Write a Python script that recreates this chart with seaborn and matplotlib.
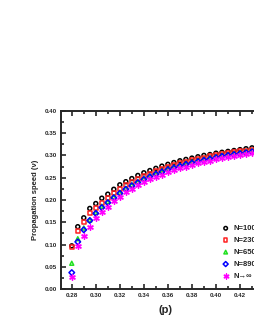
import numpy as np
import pandas as pd
import matplotlib
matplotlib.use("Agg")
import matplotlib.pyplot as plt
from matplotlib.ticker import MultipleLocator
import seaborn as sns

p = [0.280, 0.285, 0.290, 0.295, 0.300, 0.305, 0.310, 0.315, 0.320, 0.325, 0.330,
     0.335, 0.340, 0.345, 0.350, 0.355, 0.360, 0.365, 0.370, 0.375, 0.380, 0.385,
     0.390, 0.395, 0.400, 0.405, 0.410, 0.415, 0.420, 0.425, 0.430, 0.435, 0.440]

v_1000 = [0.097, 0.140, 0.160, 0.181, 0.192, 0.204, 0.213, 0.224, 0.234, 0.241, 0.248,
          0.255, 0.261, 0.266, 0.271, 0.276, 0.280, 0.284, 0.288, 0.291, 0.294, 0.297,
          0.300, 0.302, 0.305, 0.307, 0.309, 0.311, 0.313, 0.315, 0.317, 0.319, 0.320]
v_2300 = [0.095, 0.130, 0.150, 0.170, 0.181, 0.193, 0.205, 0.215, 0.225, 0.233, 0.241,
          0.248, 0.254, 0.259, 0.265, 0.270, 0.274, 0.278, 0.282, 0.286, 0.289, 0.292,
          0.295, 0.298, 0.300, 0.303, 0.305, 0.307, 0.309, 0.311, 0.313, 0.315, 0.317]
v_6500 = [0.058, 0.113, 0.137, 0.155, 0.172, 0.186, 0.196, 0.207, 0.217, 0.226, 0.234,
          0.241, 0.248, 0.254, 0.260, 0.265, 0.270, 0.274, 0.278, 0.282, 0.285, 0.288,
          0.291, 0.294, 0.297, 0.300, 0.302, 0.304, 0.306, 0.308, 0.310, 0.312, 0.314]
v_8900 = [0.037, 0.106, 0.133, 0.154, 0.170, 0.183, 0.194, 0.205, 0.215, 0.224, 0.232,
          0.239, 0.246, 0.252, 0.258, 0.263, 0.268, 0.272, 0.276, 0.280, 0.283, 0.286,
          0.289, 0.292, 0.295, 0.298, 0.300, 0.302, 0.304, 0.306, 0.308, 0.310, 0.312]
v_inf = [0.028, 0.097, 0.120, 0.140, 0.160, 0.173, 0.185, 0.197, 0.207, 0.217, 0.225,
         0.233, 0.240, 0.246, 0.252, 0.257, 0.262, 0.267, 0.271, 0.275, 0.278, 0.282,
         0.285, 0.288, 0.291, 0.294, 0.296, 0.299, 0.301, 0.303, 0.305, 0.307, 0.309]

labels = ["N=1000", "N=2300", "N=6500", "N=8900", "N→∞"]
series = [v_1000, v_2300, v_6500, v_8900, v_inf]
colors = ["black", "#ff2020", "#20e020", "#0000ff", "#ff00ff"]
markers = ["o", "s", "^", "D", (6, 2, 0)]

sns.set_style("ticks")
plt.rcParams["font.family"] = ["Liberation Sans", "DejaVu Sans"]
plt.rcParams["font.weight"] = "bold"

fig = plt.figure(figsize=(2.55, 3.30), dpi=100)
ax = fig.add_axes([0.239, 0.124, 0.82, 0.54])

for lab, vals, c, m in zip(labels, series, colors, markers):
    if m == (6, 2, 0):
        sns.scatterplot(x=p, y=vals, ax=ax, marker=m, s=16, color=c,
                        linewidth=1.0, label=lab, zorder=3)
    else:
        sns.scatterplot(x=p, y=vals, ax=ax, marker=m, s=8, facecolor="none",
                        edgecolor=c, linewidth=1.1, label=lab, zorder=3)

ax.set_xlim(0.271, 0.445)
ax.set_ylim(0.0, 0.40)
ax.xaxis.set_major_locator(MultipleLocator(0.02))
ax.xaxis.set_minor_locator(MultipleLocator(0.01))
ax.yaxis.set_major_locator(MultipleLocator(0.05))
ax.yaxis.set_minor_locator(MultipleLocator(0.025))
ax.xaxis.set_major_formatter(plt.FormatStrFormatter("%.2f"))
ax.yaxis.set_major_formatter(plt.FormatStrFormatter("%.2f"))
ax.tick_params(which="both", direction="in", top=True, right=True, width=1.2)
ax.tick_params(which="major", length=3.5, labelsize=4.5, pad=3)
ax.tick_params(which="minor", length=2)
for s in ax.spines.values():
    s.set_linewidth(1.4)
for t in ax.get_xticklabels() + ax.get_yticklabels():
    t.set_fontweight("bold")

ax.set_xlabel("(p)", fontsize=8, fontweight="bold", labelpad=5)
ax.set_ylabel("Propagation speed (ν)", fontsize=5.5, fontweight="bold", labelpad=4)

leg = ax.legend(loc="upper left", bbox_to_anchor=(0.855, 0.33),
                bbox_transform=fig.transFigure, frameon=False, fontsize=5.5,
                handletextpad=0.5, labelspacing=0.6, borderpad=0, handlelength=1.0,
                markerscale=0.9)
for t in leg.get_texts():
    t.set_fontweight("bold")

fig.savefig("out.png", dpi=100)
